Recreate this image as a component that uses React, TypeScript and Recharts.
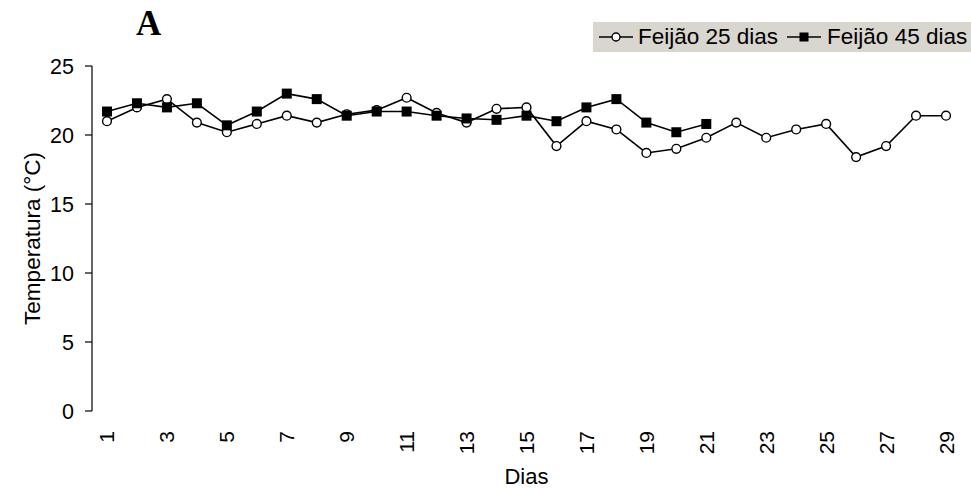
import React from 'react';
import { LineChart, Line, XAxis, YAxis, Legend } from 'recharts';

const days = [1, 2, 3, 4, 5, 6, 7, 8, 9, 10, 11, 12, 13, 14, 15, 16, 17, 18, 19, 20, 21, 22, 23, 24, 25, 26, 27, 28, 29];
const feijao25 = [21.0, 22.0, 22.6, 20.9, 20.2, 20.8, 21.4, 20.9, 21.5, 21.8, 22.7, 21.6, 20.9, 21.9, 22.0, 19.2, 21.0, 20.4, 18.7, 19.0, 19.8, 20.9, 19.8, 20.4, 20.8, 18.4, 19.2, 21.4, 21.4];
const feijao45 = [21.7, 22.3, 22.0, 22.3, 20.7, 21.7, 23.0, 22.6, 21.4, 21.7, 21.7, 21.4, 21.2, 21.1, 21.4, 21.0, 22.0, 22.6, 20.9, 20.2, 20.8, null, null, null, null, null, null, null, null];
const labelTicks = [1, 3, 5, 7, 9, 11, 13, 15, 17, 19, 21, 23, 25, 27, 29];
const boundaryTicks = [0.5, 1.5, 2.5, 3.5, 4.5, 5.5, 6.5, 7.5, 8.5, 9.5, 10.5, 11.5, 12.5, 13.5, 14.5, 15.5, 16.5, 17.5, 18.5, 19.5, 20.5, 21.5, 22.5, 23.5, 24.5, 25.5, 26.5, 27.5, 28.5, 29.5];
const yTicks = [0, 5, 10, 15, 20, 25];
const seriesNames = ['Feijão 25 dias', 'Feijão 45 dias'];

const data = days.map((d, i) => ({ day: d, f25: feijao25[i], f45: feijao45[i] }));

const FONT = '"Liberation Sans", Arial, sans-serif';

const XTick = (props: any) => {
  const { x, y, payload } = props;
  return (
    <g transform={`translate(${x},${y + 18})`}>
      <text transform="rotate(-90)" textAnchor="end" dominantBaseline="central" fontFamily={FONT} fontSize={21} fill="#000">
        {payload.value}
      </text>
    </g>
  );
};

const EmptyTick = () => <g />;

const SquareDot = (props: any) => {
  const { cx, cy, index } = props;
  if (cx == null || cy == null || isNaN(cx) || isNaN(cy)) return <g key={`s-${index}`} />;
  return <rect key={`s-${index}`} x={cx - 5} y={cy - 5} width={10} height={10} fill="#000" />;
};

const CircleDot = (props: any) => {
  const { cx, cy, index } = props;
  if (cx == null || cy == null || isNaN(cx) || isNaN(cy)) return <g key={`c-${index}`} />;
  return <circle key={`c-${index}`} cx={cx} cy={cy} r={4.4} fill="#fff" stroke="#000" strokeWidth={1.4} />;
};

const LegendContent = () => (
  <div
    style={{
      background: '#d9d5cf',
      height: 30,
      display: 'flex',
      alignItems: 'center',
      fontFamily: FONT,
      fontSize: 22.5,
      color: '#000',
      whiteSpace: 'nowrap',
      paddingLeft: 6,
    }}
  >
    <svg width={34} height={12} style={{ marginRight: 5 }}>
      <line x1={0} y1={6} x2={34} y2={6} stroke="#000" strokeWidth={1.5} />
      <circle cx={17} cy={6} r={4} fill="#fff" stroke="#000" strokeWidth={1.4} />
    </svg>
    <span>{seriesNames[0]}</span>
    <svg width={34} height={12} style={{ marginLeft: 9, marginRight: 6 }}>
      <line x1={0} y1={6} x2={34} y2={6} stroke="#000" strokeWidth={1.5} />
      <rect x={12.5} y={1.5} width={9} height={9} fill="#000" />
    </svg>
    <span>{seriesNames[1]}</span>
  </div>
);

export default function App() {
  return (
    <div style={{ position: 'absolute', left: 0, top: 0, width: 971, height: 488, background: '#fff' }}>
      <div
        style={{
          position: 'absolute',
          left: 136,
          top: 4,
          fontFamily: '"Liberation Serif", "Times New Roman", serif',
          fontWeight: 'bold',
          fontSize: 35,
          lineHeight: '40px',
          color: '#000',
        }}
      >
        A
      </div>
      <LineChart width={971} height={488} data={data} margin={{ top: 66, right: 10, left: 0, bottom: 0 }}>
        <XAxis
          xAxisId="grid"
          dataKey="day"
          type="number"
          domain={[0.5, 29.5]}
          ticks={boundaryTicks}
          tick={EmptyTick}
          tickSize={7}
          height={0}
          axisLine={{ stroke: '#000', strokeWidth: 1.2 }}
          tickLine={{ stroke: '#000', strokeWidth: 1.2 }}
          interval={0}
        />
        <XAxis
          xAxisId="lab"
          dataKey="day"
          type="number"
          domain={[0.5, 29.5]}
          ticks={labelTicks}
          tick={XTick}
          tickLine={false}
          axisLine={false}
          tickSize={0}
          height={77}
          interval={0}
          label={{ value: 'Dias', position: 'center', dy: 27, style: { fontFamily: FONT, fontSize: 22, fill: '#000' } }}
        />
        <YAxis
          width={92}
          type="number"
          domain={[0, 25]}
          ticks={yTicks}
          interval={0}
          tickSize={7}
          tickMargin={11}
          axisLine={{ stroke: '#000', strokeWidth: 1.2 }}
          tickLine={{ stroke: '#000', strokeWidth: 1.2 }}
          tick={{ fontFamily: FONT, fontSize: 21.5, fill: '#000' }}
          label={{ value: 'Temperatura (°C)', angle: -90, position: 'center', dx: -14, style: { fontFamily: FONT, fontSize: 22.5, fill: '#000', textAnchor: 'middle' } }}
        />
        <Legend
          layout="horizontal"
          verticalAlign="middle"
          align="center"
          content={LegendContent}
          wrapperStyle={{ position: 'absolute', left: 593, top: 22, width: 378, height: 30 }}
        />
        <Line
          xAxisId="grid"
          dataKey="f25"
          name={seriesNames[0]}
          stroke="#000"
          strokeWidth={1.6}
          dot={CircleDot}
          activeDot={false}
          isAnimationActive={false}
        />
        <Line
          xAxisId="grid"
          dataKey="f45"
          name={seriesNames[1]}
          stroke="#000"
          strokeWidth={1.6}
          dot={SquareDot}
          activeDot={false}
          isAnimationActive={false}
        />
      </LineChart>
    </div>
  );
}
